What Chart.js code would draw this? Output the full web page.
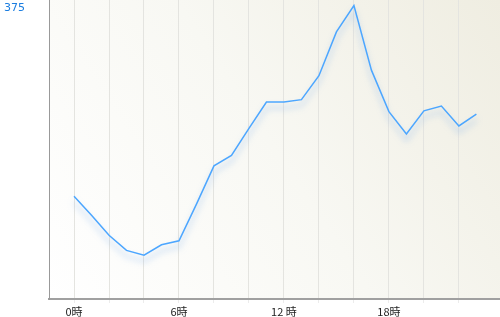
<!DOCTYPE html>
<html>
<head>
<meta charset="utf-8">
<script src="https://cdn.jsdelivr.net/npm/chart.js@4"></script>
<style>
  html, body { margin: 0; padding: 0; background: #fff; }
  #wrap { width: 500px; height: 317px; }
</style>
</head>
<body>
<div id="wrap"><canvas id="chart"></canvas></div>
<script>
// hourly values
const hours = [0, 1, 2, 3, 4, 5, 6, 7, 8, 9, 10, 11, 12, 13, 14, 15, 16, 17, 18, 19, 20, 21, 22, 23];
const values = [129, 105, 80, 61, 55, 68, 73, 119, 167, 180, 214, 247, 247, 250, 280, 335, 368, 287, 235, 207, 236, 242, 217, 232];
const gridHours = [0, 2, 4, 6, 8, 10, 12, 14, 16, 18, 20, 22];
const xTickLabels = {0: '0時', 6: '6時', 12: '12 時', 18: '18時'};
const yTicks = [375];

// plot background: white bottom-left to beige top-right
const bgPlugin = {
    id: 'plotBg',
    beforeDraw(chart) {
        const a = chart.chartArea;
        const ctx = chart.ctx;
        const g = ctx.createLinearGradient(a.left, a.bottom, a.right, a.top);
        g.addColorStop(0, '#ffffff');
        g.addColorStop(0.5, '#f8f8f3');
        g.addColorStop(1, '#efede1');
        ctx.save();
        ctx.fillStyle = g;
        ctx.fillRect(a.left, a.top, a.right - a.left, a.bottom - a.top);
        ctx.restore();
    }
};

// soft bluish shadow under the line
const shadowPlugin = {
    id: 'lineShadow',
    beforeDatasetDraw(chart) {
        const ctx = chart.ctx;
        ctx.save();
        ctx.shadowColor = 'rgba(110, 165, 235, 0.6)';
        ctx.shadowBlur = 6;
        ctx.shadowOffsetX = 0;
        ctx.shadowOffsetY = 6;
    },
    afterDatasetDraw(chart) {
        chart.ctx.restore();
    }
};

new Chart(document.getElementById('chart'), {
    type: 'line',
    data: {
        datasets: [{
            data: hours.map((h, i) => ({x: h, y: values[i]})),
            borderColor: '#4ca6ff',
            borderWidth: 1.5,
            pointRadius: 0,
            tension: 0,
            fill: false
        }]
    },
    options: {
        responsive: true,
        maintainAspectRatio: false,
        animation: false,
        layout: {padding: {left: 4, top: 0, right: 0, bottom: 0}},
        plugins: {legend: {display: false}, tooltip: {enabled: false}},
        scales: {
            x: {
                type: 'linear',
                min: -1.43,
                max: 24.35,
                afterBuildTicks: scale => { scale.ticks = gridHours.map(v => ({value: v})); },
                afterFit: scale => { scale.height = 18; },
                grid: {color: '#e4e4e0', tickLength: 4, tickColor: '#ececec'},
                border: {color: '#a0a0a0', width: 2},
                ticks: {
                    autoSkip: false,
                    maxRotation: 0,
                    padding: 2,
                    color: '#222',
                    font: {family: 'Noto Sans CJK JP', size: 11},
                    callback: v => xTickLabels[v] || ''
                }
            },
            y: {
                min: 0,
                max: 375,
                afterBuildTicks: scale => { scale.ticks = yTicks.map(v => ({value: v})); },
                afterFit: scale => { scale.width = 45; },
                grid: {display: false},
                border: {color: '#999', width: 1},
                ticks: {
                    align: 'start',
                    crossAlign: 'far',
                    labelOffset: 3,
                    color: '#1a7de0',
                    font: {family: 'DejaVu Sans', size: 11},
                    padding: 0
                }
            }
        }
    },
    plugins: [bgPlugin, shadowPlugin]
});
</script>
</body>
</html>
